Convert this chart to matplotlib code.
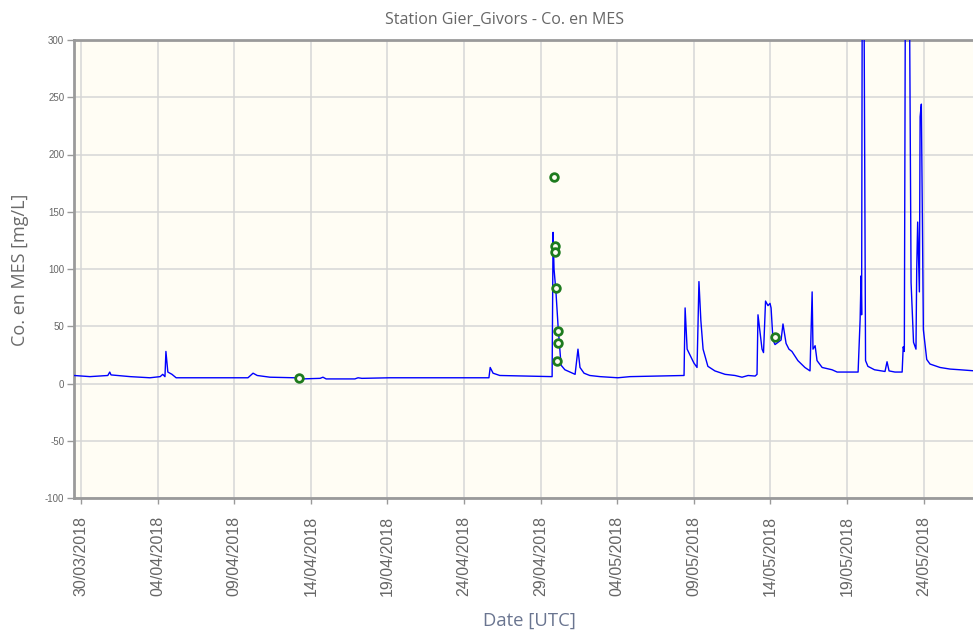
import matplotlib
matplotlib.use("Agg")
import matplotlib.pyplot as plt
import matplotlib.dates as mdates
import pandas as pd

plt.rcParams["axes.unicode_minus"] = False

# ---- data ----
line_times = [
    "2018-03-29 13:00", "2018-03-30 14:00", "2018-03-31 18:00", "2018-03-31 21:00", "2018-03-31 23:00",
    "2018-04-02 05:00", "2018-04-03 12:00", "2018-04-04 04:00", "2018-04-04 08:00", "2018-04-04 11:30",
    "2018-04-04 13:00", "2018-04-04 16:00", "2018-04-04 22:30", "2018-04-05 05:00", "2018-04-09 21:30",
    "2018-04-10 05:30", "2018-04-10 12:00", "2018-04-11 08:00", "2018-04-12 23:00", "2018-04-13 10:00",
    "2018-04-14 14:30", "2018-04-14 19:00", "2018-04-15 00:00", "2018-04-16 21:00", "2018-04-17 02:00",
    "2018-04-17 08:00", "2018-04-19 04:00", "2018-04-25 15:00", "2018-04-25 17:00", "2018-04-25 21:30",
    "2018-04-26 08:00", "2018-04-29 18:00", "2018-04-29 19:30", "2018-04-29 21:00", "2018-04-30 00:00",
    "2018-04-30 03:20", "2018-04-30 08:00", "2018-04-30 14:00", "2018-05-01 06:00", "2018-05-01 10:30",
    "2018-05-01 13:40", "2018-05-01 20:00", "2018-05-02 05:00", "2018-05-02 21:00", "2018-05-04 01:00",
    "2018-05-04 20:00", "2018-05-08 08:40", "2018-05-08 10:20", "2018-05-08 13:30", "2018-05-09 00:00",
    "2018-05-09 05:00", "2018-05-09 06:30", "2018-05-09 08:00", "2018-05-09 11:00", "2018-05-09 14:30",
    "2018-05-09 22:00", "2018-05-10 09:00", "2018-05-11 01:00", "2018-05-11 16:30", "2018-05-12 03:30",
    "2018-05-12 13:00", "2018-05-13 00:00", "2018-05-13 03:00", "2018-05-13 04:30", "2018-05-13 07:40",
    "2018-05-13 10:50", "2018-05-13 13:10", "2018-05-13 16:20", "2018-05-13 20:10", "2018-05-13 23:20",
    "2018-05-14 01:00", "2018-05-14 04:00", "2018-05-14 07:10", "2018-05-14 12:00", "2018-05-14 16:40",
    "2018-05-14 19:40", "2018-05-15 00:30", "2018-05-15 05:00", "2018-05-15 09:40", "2018-05-15 19:00",
    "2018-05-16 06:00", "2018-05-16 14:00", "2018-05-16 17:20", "2018-05-16 18:40", "2018-05-16 22:00",
    "2018-05-17 01:00", "2018-05-17 09:00", "2018-05-18 00:30", "2018-05-18 08:30", "2018-05-19 17:20",
    "2018-05-19 20:30", "2018-05-19 22:00", "2018-05-19 22:50", "2018-05-20 00:00", "2018-05-20 02:30",
    "2018-05-20 05:00", "2018-05-20 08:40", "2018-05-20 19:00", "2018-05-21 11:30", "2018-05-21 14:40",
    "2018-05-21 17:50", "2018-05-22 03:00", "2018-05-22 14:20", "2018-05-22 16:00", "2018-05-22 17:45",
    "2018-05-22 19:40", "2018-05-22 22:50", "2018-05-23 02:00", "2018-05-23 04:20", "2018-05-23 08:10",
    "2018-05-23 12:00", "2018-05-23 13:10", "2018-05-23 14:40", "2018-05-23 17:20", "2018-05-23 18:30",
    "2018-05-23 20:25", "2018-05-23 23:35", "2018-05-24 04:50", "2018-05-24 10:00", "2018-05-25 01:40",
    "2018-05-25 17:20", "2018-05-26 09:00", "2018-05-27 08:40",
]
line_values = [
    7, 6, 7, 10, 7.5,
    6, 5, 6, 8, 6,
    28, 10, 8, 5, 5,
    9, 7, 5.5, 5, 4,
    4.5, 5.5, 4, 4, 5,
    4.5, 5, 5, 14, 9,
    7, 6, 132, 100, 80,
    50, 16, 12, 8, 30,
    14, 9, 7, 6, 5,
    6, 7, 66, 30, 18,
    14, 50, 89, 55, 30,
    15, 11, 8, 7, 5.5,
    7, 6.5, 8, 60, 45,
    30, 27, 72, 68, 70,
    66, 38, 34, 36, 38,
    52, 35, 30, 28, 20,
    14, 11, 80, 30, 33,
    20, 14, 12, 10, 10,
    56, 94, 60, 400, 350,
    20, 15, 12, 10.5, 19,
    11, 10, 10, 32, 28,
    400, 520, 320, 88, 36,
    30, 100, 141, 80, 233,
    244, 47, 21, 17, 14,
    12.6, 12, 11,
]

sample_times = [
    "2018-04-13 05:30", "2018-04-29 21:00", "2018-04-29 22:30", "2018-04-29 23:00",
    "2018-04-30 00:00", "2018-04-30 01:40", "2018-04-30 02:50", "2018-04-30 03:50",
    "2018-05-14 07:10",
]
sample_values = [5, 180, 120, 115, 83, 19.5, 46, 35.5, 40.5]

y_ticks = [-100, -50, 0, 50, 100, 150, 200, 250, 300]
x_tick_dates = ["2018-03-30", "2018-04-04", "2018-04-09", "2018-04-14", "2018-04-19", "2018-04-24",
                "2018-04-29", "2018-05-04", "2018-05-09", "2018-05-14", "2018-05-19", "2018-05-24"]

title = "Station Gier_Givors - Co. en MES"
y_label = "Co. en MES [mg/L]"
x_label = "Date [UTC]"

# ---- figure ----
fig = plt.figure(figsize=(9.73, 6.32), dpi=100)
ax = fig.add_axes([74 / 973, 1 - 498 / 632, 1 - 74 / 973, (498 - 40) / 632])
ax.set_facecolor("#FFFDF4")

lt = pd.to_datetime(line_times)
st = pd.to_datetime(sample_times)
ax.plot(lt, line_values, color="#0000FF", lw=1.0, zorder=3)
ax.plot(st, sample_values, ls="none", marker="o", ms=5.5, mfc="#FFFDF4",
        mec="#1E7B1E", mew=2.0, zorder=4)

ax.set_ylim(-100, 300)
ax.set_xlim(pd.Timestamp("2018-03-29 13:00"), pd.Timestamp("2018-05-27 05:20"))
ax.set_yticks(y_ticks)
ax.set_xticks(pd.to_datetime(x_tick_dates))
ax.xaxis.set_major_formatter(mdates.DateFormatter("%d/%m/%Y"))

ax.grid(True, color="#D6D6D6", lw=1.1)
ax.set_axisbelow(True)

for s in ["left", "top", "bottom"]:
    ax.spines[s].set_color("#9A9A9A")
    ax.spines[s].set_linewidth(2)
ax.spines["right"].set_visible(False)

ax.tick_params(axis="y", colors="#9A9A9A", labelcolor="#666666", labelsize=7, length=5, width=1, pad=2)
ax.tick_params(axis="x", colors="#9A9A9A", labelcolor="#666666", labelsize=11.5, length=4, width=1, pad=9)
for lab in ax.get_xticklabels():
    lab.set_rotation(90)
    lab.set_fontfamily("Liberation Sans")
for lab in ax.get_yticklabels():
    lab.set_fontfamily("Liberation Sans")

fig.text(505 / 973, 1 - 20 / 632, title, ha="center", va="center", fontsize=11.5,
         color="#666666", family="Open Sans")
fig.text(20 / 973, 1 - 270 / 632, y_label, ha="center", va="center", rotation=90,
         fontsize=13, color="#6A6A6A", family="Open Sans")
fig.text(529 / 973, 1 - 621 / 632, x_label, ha="center", va="center", fontsize=13.3,
         color="#6A7590", family="Open Sans")

fig.savefig("out.png", dpi=100)
